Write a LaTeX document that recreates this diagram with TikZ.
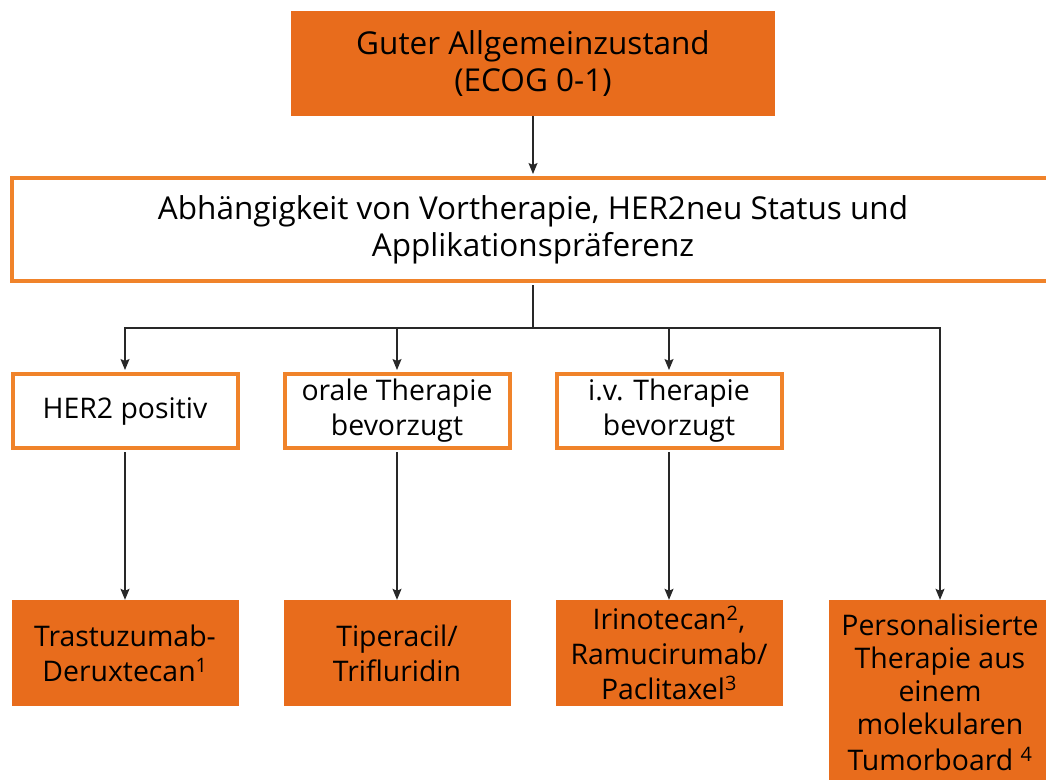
\documentclass[tikz,border=0pt]{standalone}
\usepackage{fontspec}
\setmainfont{Open Sans}
\usetikzlibrary{arrows.meta}
\definecolor{orfill}{RGB}{232,108,28}
\definecolor{orline}{RGB}{240,131,42}
\definecolor{connc}{RGB}{40,40,40}
\begin{document}
\begin{tikzpicture}[x=1pt,y=-1pt,
  every node/.style={font=\fontsize{28.4}{35}\selectfont, align=center, inner sep=0pt},
  bigtext/.style={font=\fontsize{31.5}{37}\selectfont},
  fillbox/.style={fill=orfill, draw=none, text=black},
  linebox/.style={fill=white, draw=orline, line width=4pt},
  conn/.style={draw=connc, line width=1.3pt, -{Stealth[length=11pt,width=9pt,inset=2pt]}},
  plain/.style={draw=connc, line width=1.3pt}]
\useasboundingbox (0,0) rectangle (1046,779);
\clip (0,0) rectangle (1046,779);

\node[fillbox, bigtext, minimum width=484pt, minimum height=105pt] (top) at (533,63.5) {Guter Allgemeinzustand\\(ECOG 0-1)};
\node[linebox, bigtext, minimum width=1042pt, minimum height=103pt] (mid) at (533,229.5) {Abhängigkeit von Vortherapie, HER2neu Status und\\Applikationspräferenz};

\node[linebox, minimum width=225pt, minimum height=74pt] (her) at (125,411) {HER2 positiv};
\node[linebox, minimum width=225pt, minimum height=74pt] (oral) at (397,411) {orale Therapie\\bevorzugt};
\node[linebox, minimum width=225pt, minimum height=74pt] (iv) at (669,411) {i.v. Therapie\\bevorzugt};

\node[fillbox, minimum width=227pt, minimum height=106pt] (tras) at (125,653) {Trastuzumab-\\Deruxtecan\textsuperscript{1}};
\node[fillbox, minimum width=227pt, minimum height=106pt] (tip) at (397,653) {Tiperacil/\\Trifluridin};
\node[fillbox, minimum width=227pt, minimum height=106pt] (iri) at (669,653) {Irinotecan\textsuperscript{2},\\Ramucirumab/\\Paclitaxel\textsuperscript{3}};
\node[fillbox, minimum width=222pt, minimum height=190pt] (pers) at (940,695) {};
\node[align=center, font=\fontsize{28.4}{33}\selectfont] (perstext) at (940,692) {Personalisierte\\Therapie aus\\einem\\molekularen\\[3pt]Tumorboard \textsuperscript{4}};

\coordinate (br) at (533,328);
\draw[conn, shorten >=2pt] (top.south) -- (mid.north);
\draw[plain, shorten <=2pt] (mid.south) -- (br);
\draw[conn, shorten >=2pt] (br) -| (her.north);
\draw[conn, shorten >=2pt] (br) -| (oral.north);
\draw[conn, shorten >=2pt] (br) -| (iv.north);
\draw[conn] (br) -| (pers.north);
\draw[conn, shorten <=2pt] (her.south) -- (tras.north);
\draw[conn, shorten <=2pt] (oral.south) -- (tip.north);
\draw[conn, shorten <=2pt] (iv.south) -- (iri.north);
\end{tikzpicture}
\end{document}
